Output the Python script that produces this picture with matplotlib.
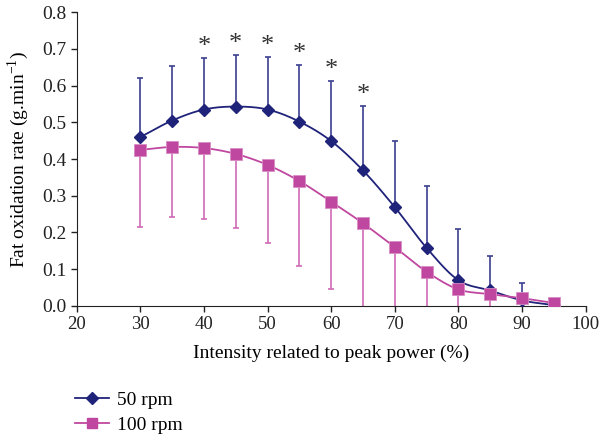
import numpy as np
import matplotlib
matplotlib.use("Agg")
import matplotlib.pyplot as plt

# intensity (% of peak power)
intensity = [30, 35, 40, 45, 50, 55, 60, 65, 70, 75, 80, 85, 90, 95]

# 50 rpm: mean and upper SD
rpm50 = [0.460, 0.505, 0.535, 0.543, 0.535, 0.502, 0.449, 0.369, 0.269, 0.158, 0.070, 0.042, 0.015, 0.002]
rpm50_sd = [0.162, 0.148, 0.140, 0.141, 0.144, 0.153, 0.163, 0.175, 0.179, 0.169, 0.140, 0.094, 0.048, 0.008]

# 100 rpm: mean and lower SD
rpm100 = [0.425, 0.433, 0.430, 0.414, 0.384, 0.340, 0.284, 0.225, 0.160, 0.093, 0.045, 0.032, 0.021, 0.008]
rpm100_sd = [0.209, 0.192, 0.192, 0.201, 0.214, 0.230, 0.237, 0.240, 0.180, 0.120, 0.060, 0.045, 0.030, 0.010]

# significant differences
sig_x = [40, 45, 50, 55, 60, 65]

blue = "#1f237a"
blue_err = "#3b3f8f"
pink = "#c0479f"
pink_err = "#cf6bb5"

plt.rcParams["font.family"] = ["Liberation Serif", "DejaVu Serif"]
plt.rcParams["mathtext.fontset"] = "custom"
plt.rcParams["mathtext.rm"] = "Liberation Serif"


def smooth(x, y, n=30):
    # Catmull-Rom style curve through the points, like Excel's smoothed line
    x = np.asarray(x, float)
    y = np.asarray(y, float)
    px = np.concatenate([[2 * x[0] - x[1]], x, [2 * x[-1] - x[-2]]])
    py = np.concatenate([[2 * y[0] - y[1]], y, [2 * y[-1] - y[-2]]])
    xs, ys = [], []
    t = np.linspace(0, 1, n)
    for i in range(1, len(px) - 2):
        for p, out in ((px, xs), (py, ys)):
            p0, p1, p2, p3 = p[i - 1], p[i], p[i + 1], p[i + 2]
            out.extend(0.5 * ((2 * p1) + (-p0 + p2) * t
                              + (2 * p0 - 5 * p1 + 4 * p2 - p3) * t ** 2
                              + (-p0 + 3 * p1 - 3 * p2 + p3) * t ** 3))
    return np.array(xs), np.array(ys)


fig = plt.figure(figsize=(6, 4.37), dpi=100)
ax = fig.add_axes([0.128, 0.300, 0.848, 0.672])

ax.errorbar(intensity, rpm50, yerr=[np.zeros(len(rpm50)), rpm50_sd], fmt="none",
            ecolor=blue_err, elinewidth=1.2, capsize=2.5, capthick=1.2, zorder=2)
ax.errorbar(intensity, rpm100, yerr=[rpm100_sd, np.zeros(len(rpm100))], fmt="none",
            ecolor=pink_err, elinewidth=1.2, capsize=2.5, capthick=1.2, zorder=2)

sx, sy = smooth(intensity, rpm50)
ax.plot(sx, sy, color=blue, lw=1.3, zorder=3)
sx, sy = smooth(intensity, rpm100)
ax.plot(sx, sy, color=pink, lw=1.3, zorder=3)

ax.plot(intensity, rpm50, ls="none", marker="D", ms=6.5, color=blue, zorder=4)
ax.plot(intensity, rpm100, ls="none", marker="s", ms=8, color=pink,
        markeredgecolor="#d98bc4", markeredgewidth=0.6, zorder=5)

for x in sig_x:
    i = intensity.index(x)
    ax.text(x, rpm50[i] + rpm50_sd[i] + 0.03, "*", ha="center", va="center",
            fontsize=19, color="#333333")

# legend handles (proxy lines)
h1, = ax.plot([], [], color=blue, lw=1.3, marker="D", ms=6)
h2, = ax.plot([], [], color=pink, lw=1.3, marker="s", ms=6.5)
fig.legend([h1, h2], ["50 rpm", "100 rpm"], loc="upper left",
           bbox_to_anchor=(0.125, 0.105), frameon=False, fontsize=14,
           handlelength=1.75, handletextpad=0.4, borderpad=0,
           labelspacing=0.4, borderaxespad=0)

ax.set_xlim(20, 100)
ax.set_ylim(0, 0.8)
ax.set_xticks(np.arange(20, 101, 10))
ax.set_yticks(np.arange(0, 0.81, 0.1))
ax.set_yticklabels([f"{v:.1f}" for v in np.arange(0, 0.81, 0.1)])
ax.tick_params(labelsize=14, length=4, width=1, colors="#222222", direction="out")
ax.tick_params(axis="x", labelsize=13.5)
for s in ["top", "right"]:
    ax.spines[s].set_visible(False)
for s in ["left", "bottom"]:
    ax.spines[s].set_color("#222222")

ax.set_xlabel("Intensity related to peak power (%)", fontsize=14, labelpad=8)
ax.set_ylabel("Fat oxidation rate (g.min$^{\\mathregular{-1}}$)", fontsize=14, labelpad=8)

fig.savefig("out.png", dpi=100)
